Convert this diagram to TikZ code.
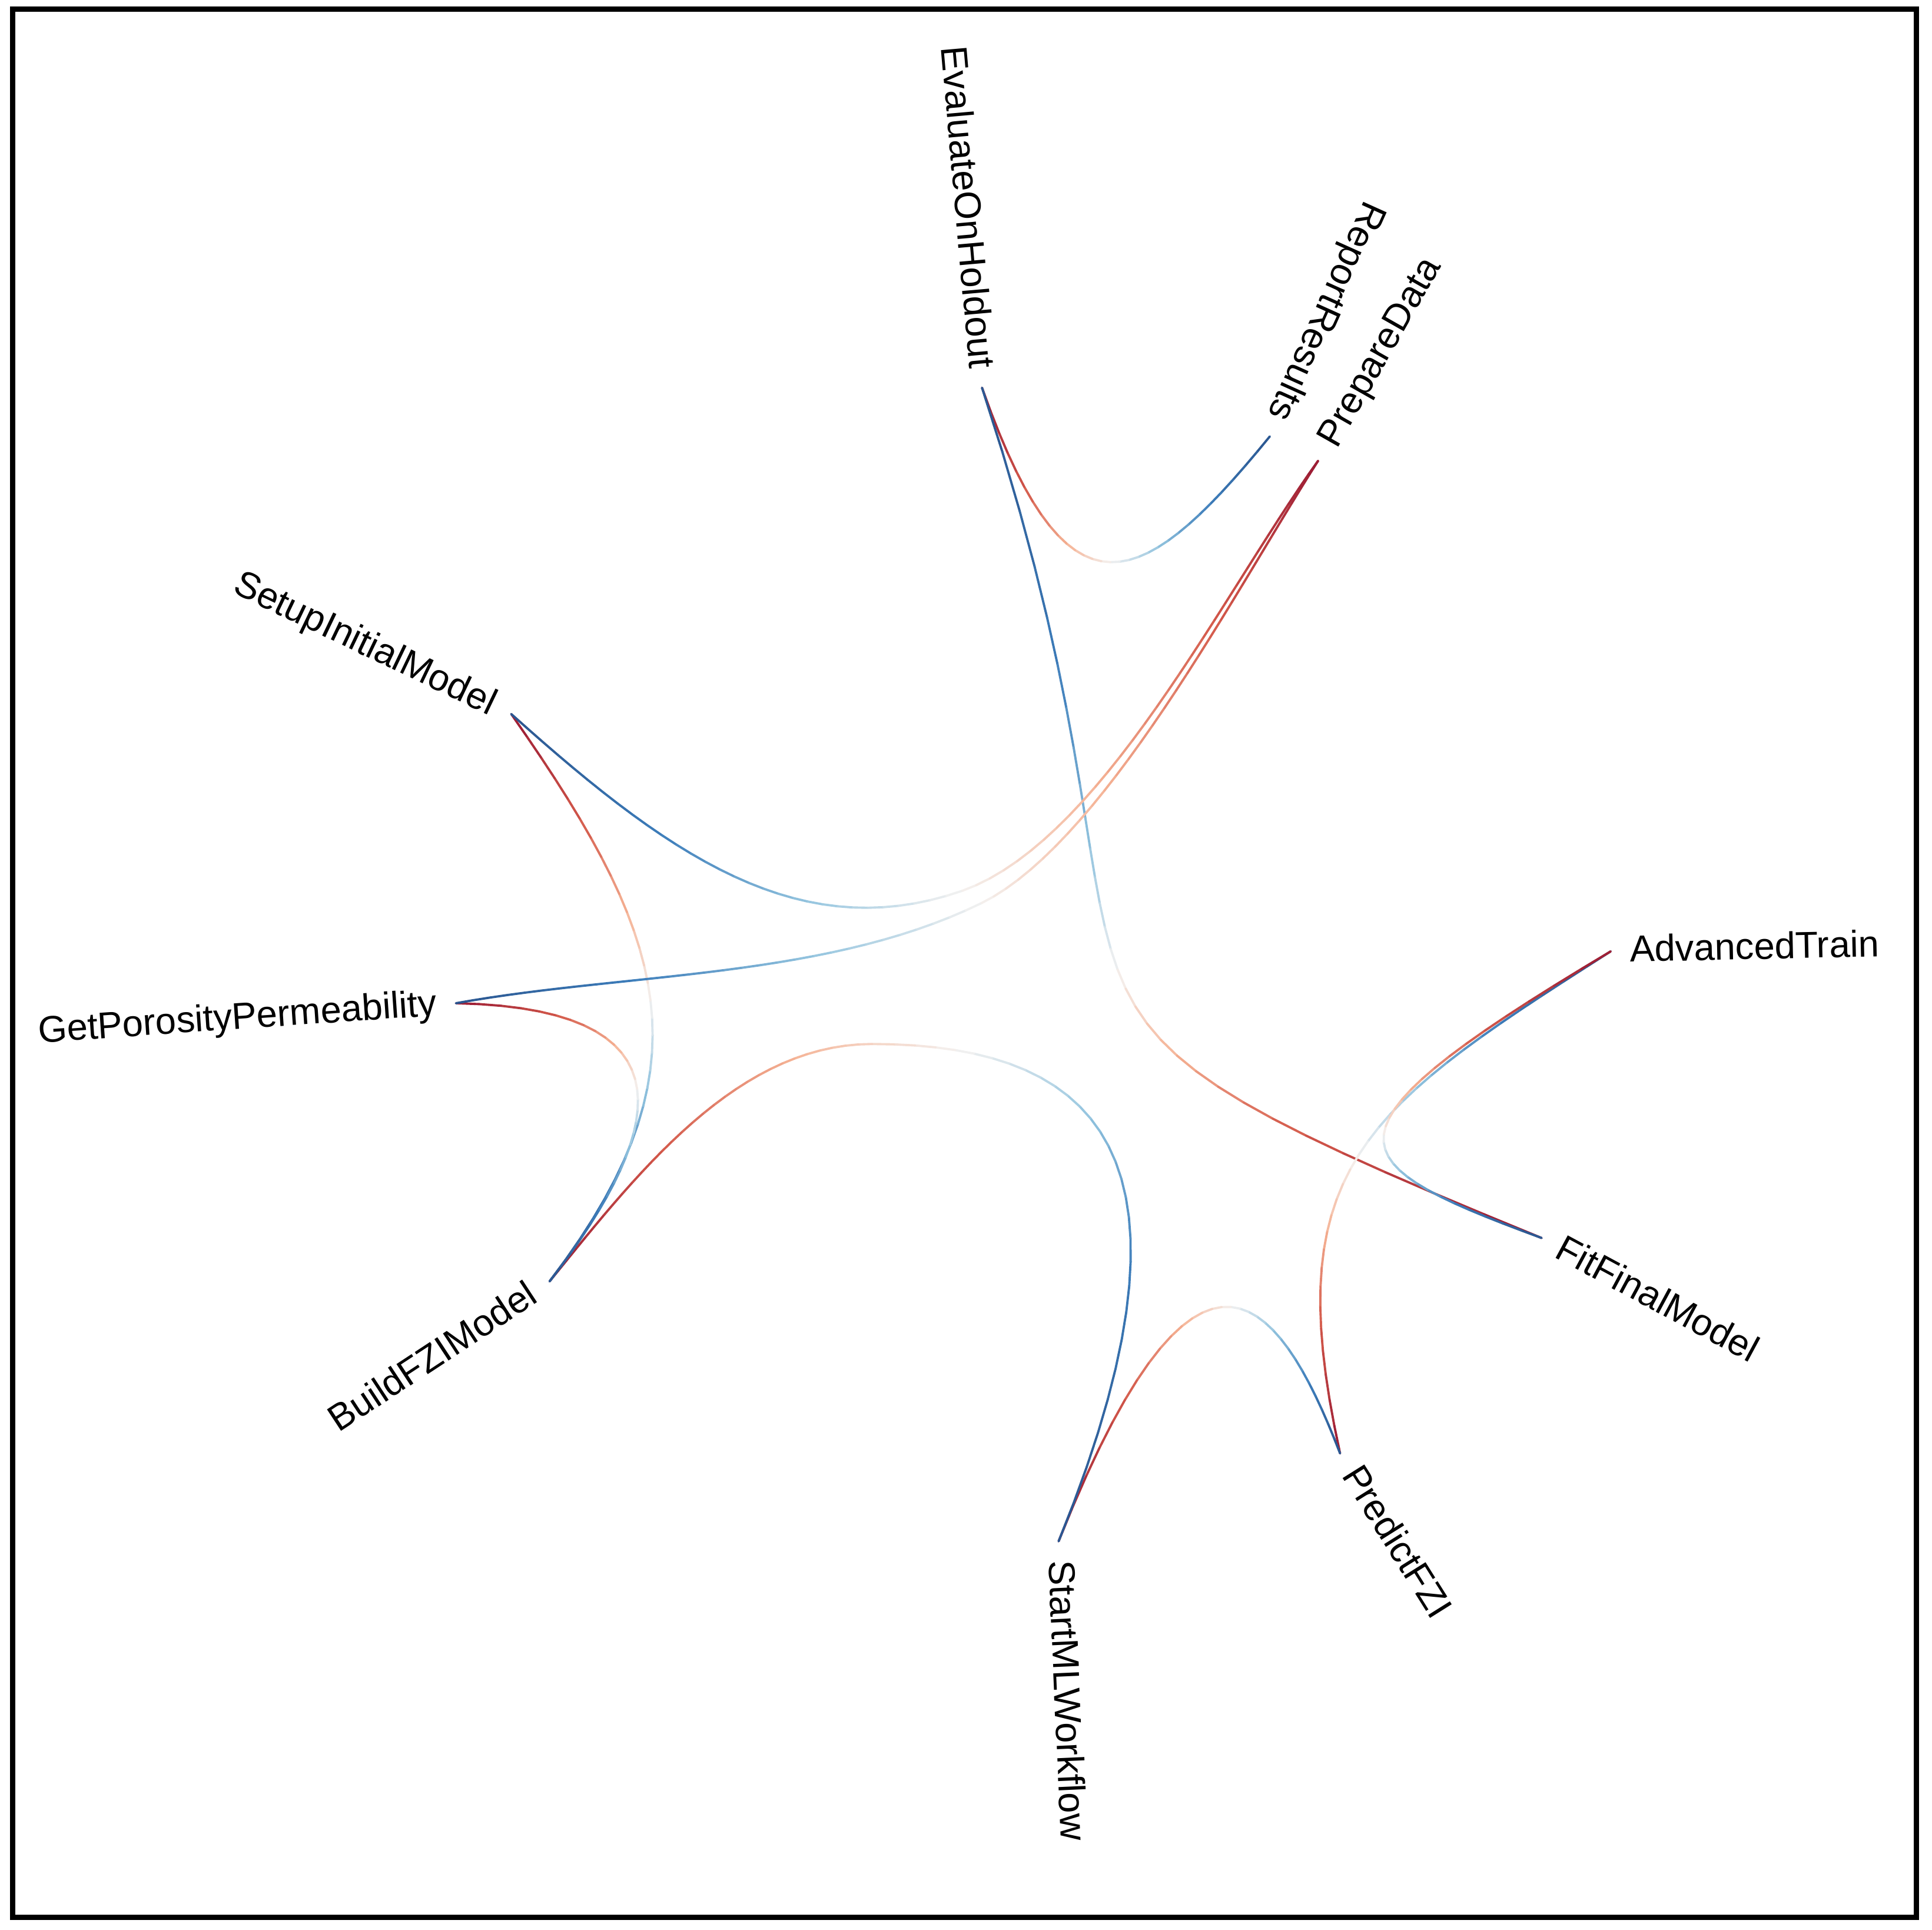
\documentclass[tikz,border=0pt]{standalone}
\usepackage{fontspec}
\setmainfont{Liberation Sans}

% diverging ramp, blue end -> red end
\definecolor{rb0}{HTML}{2A558F}
\definecolor{rb1}{HTML}{3D7DBA}
\definecolor{rb2}{HTML}{94C5DF}
\definecolor{rb3}{HTML}{F4F2F1}
\definecolor{rb4}{HTML}{F5B395}
\definecolor{rb5}{HTML}{D3584A}
\definecolor{rb6}{HTML}{9A1B34}

% one cubic piece of a bundled link: from #1 (node) via (#2,#3) and (#4,#5) to #6 (node), colour range #7..#8
\newcommand\bundleseg[8]{%
  \foreach \k in {1,...,30}{%
    \pgfmathsetmacro\bsTa{(\k-1)/30}%
    \pgfmathsetmacro\bsTb{\k/30}%
    \pgfmathsetmacro\bsTm{6*(#7+(#8-#7)*(\k-0.5)/30)}%
    \pgfmathtruncatemacro\bsLo{min(5,floor(\bsTm))}%
    \pgfmathtruncatemacro\bsHi{\bsLo+1}%
    \pgfmathtruncatemacro\bsMix{round(100*(\bsTm-\bsLo))}%
    \pgfcoordinate{bs-a}{\pgfpointcurveattime{\bsTa}{\pgfpointanchor{#1}{center}}{\pgfpointxy{#2}{#3}}{\pgfpointxy{#4}{#5}}{\pgfpointanchor{#6}{center}}}%
    \pgfcoordinate{bs-b}{\pgfpointcurveattime{\bsTb}{\pgfpointanchor{#1}{center}}{\pgfpointxy{#2}{#3}}{\pgfpointxy{#4}{#5}}{\pgfpointanchor{#6}{center}}}%
    \draw[flow, draw=rb\bsHi!\bsMix!rb\bsLo] (bs-a) -- (bs-b);
  }}

\begin{document}
\begin{tikzpicture}[
    x=0.104925mm, y=0.104925mm,
    leaf/.style={inner sep=0pt, font=\fontsize{9pt}{11pt}\selectfont, text=black},
    flow/.style={line width=0.55pt, line cap=round}
]
    % --- canvas and frame ---
    \useasboundingbox (-836,780) rectangle (728,-782);
    \draw[line width=1.2pt] (-825.8,772.6) rectangle (715.3,-771.8);

    % --- leaves on the ring ---
    \foreach \nm/\ang/\turn/\side/\txt in {
        E/95.03/180/east/EvaluateOnHoldout,
        R/65.78/180/east/ReportResults,
        P/60.42/0/west/PrepareData,
        A/1.22/0/west/AdvancedTrain,
        F/-28.32/0/west/FitFinalModel,
        PF/-57.88/0/west/PredictFZI,
        S/-87.43/0/west/StartMLWorkflow,
        B/213.32/180/east/BuildFZIModel,
        G/183.92/180/east/GetPorosityPermeability,
        SI/154.42/180/east/SetupInitialModel}{
        \coordinate (\nm) at (\ang:468);
        \node[leaf, anchor=mid \side, rotate=\ang+\turn] (\nm-label) at (\ang:483) {\txt};
    }

    % --- bundled links, blue end first ---
    \bundleseg{R}{89.1}{300.5}{28.5}{268.5}{E}{0}{1}
    \bundleseg{E}{136}{-71.6}{-76.4}{-22.4}{F}{0}{1}
    \bundleseg{A}{266.5}{-118.2}{198.2}{-166}{PF}{0}{1}
    \bundleseg{F}{244.3}{-160.3}{220.5}{-137.4}{A}{0}{1}
    \bundleseg{PF}{202}{-275}{136}{-178}{S}{0}{1}

    \coordinate (sb-top) at (-130,-65);
    \bundleseg{S}{150}{-151}{50}{-65}{sb-top}{0}{0.58}
    \bundleseg{sb-top}{-240}{-65}{-321}{-171}{B}{0.58}{1}

    \bundleseg{B}{-258}{-83}{-296}{22}{SI}{0}{1}
    \bundleseg{B}{-299}{-138}{-269}{-36}{G}{0}{1}

    \coordinate (gp-mid) at (-41.5,49);
    \bundleseg{G}{-329}{-7}{-167.5}{-12.6}{gp-mid}{0}{0.5}
    \bundleseg{gp-mid}{57}{97.5}{164}{302}{P}{0.5}{1}

    \coordinate (sp-mid) at (-57,59);
    \bundleseg{SI}{-295}{88}{-189}{13}{sp-mid}{0}{0.5}
    \bundleseg{sp-mid}{56}{99}{154}{300}{P}{0.5}{1}
\end{tikzpicture}
\end{document}
